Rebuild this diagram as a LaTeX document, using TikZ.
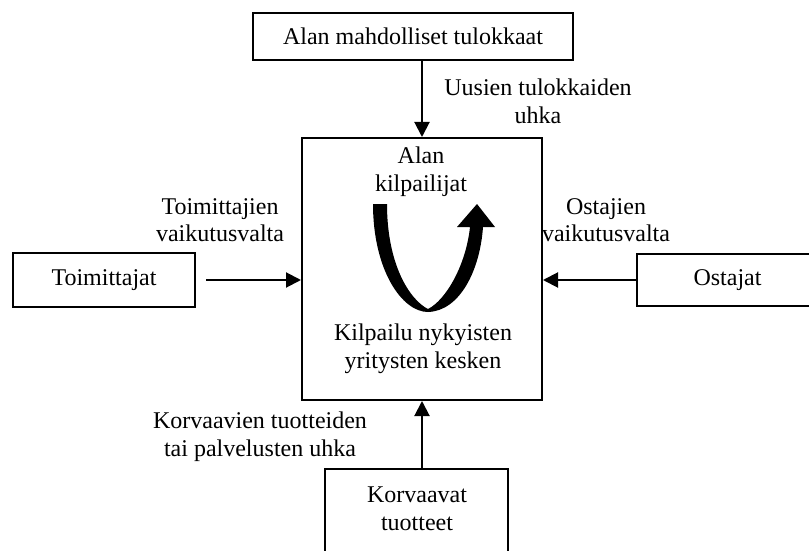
\documentclass[tikz,border=0pt]{standalone}
\usepackage{fontspec}
\setmainfont{Liberation Serif}
\usepackage{tikz}
\usetikzlibrary{arrows.meta}

\begin{document}
\begin{tikzpicture}[
    x=0.5pt, y=-0.5pt,
    font=\fontsize{12}{13.8}\selectfont,
    box/.style={draw, line width=1pt, inner sep=0pt},
    arrow/.style={-{Triangle[length=7.5pt,width=7.5pt]}, line width=1pt},
    lbl/.style={align=center, inner sep=0pt}
]
    \clip (0,0) rectangle (809,551);

    % Boxes
    \node[box, minimum width=160pt, minimum height=23.5pt] (tulokkaat) at (413,36.5) {Alan mahdolliset tulokkaat};
    \node[box, minimum width=120pt, minimum height=131pt] (kilpailu) at (422,269) {};
    \node[box, minimum width=91pt, minimum height=27pt] (toimittajat) at (104,280) {Toimittajat};
    \node[box, minimum width=90.5pt, minimum height=26pt] (ostajat) at (727.5,280) {Ostajat};
    \node[box, minimum width=91.5pt, minimum height=60pt] (korvaavat) at (416.5,529) {};
    \node[lbl] (korvteksti) at (417,509) {Korvaavat\\tuotteet};

    % Forces
    \draw[arrow] (tulokkaat.south -| kilpailu.north) -- (kilpailu.north);
    \draw[arrow, shorten <=5pt] (toimittajat.east) -- (toimittajat.east -| kilpailu.west);
    \draw[arrow] (ostajat.west) -- (ostajat.west -| kilpailu.east);
    \draw[arrow] (korvaavat.north -| kilpailu.south) -- (kilpailu.south);

    % Labels
    \node[lbl] (uusien) at (538,101) {Uusien tulokkaiden\\uhka};
    \node[lbl] (toimvalta) at (220,220) {Toimittajien\\vaikutusvalta};
    \node[lbl] (ostvalta) at (606,220) {Ostajien\\vaikutusvalta};
    \node[lbl] (korvuhka) at (260,437) {Korvaavien tuotteiden\\tai palvelusten uhka};

    % Inside the middle box
    \node[lbl] (alan) at (421,172) {Alan\\kilpailijat};
    \node[lbl] (nykyiset) at (423,349) {Kilpailu nykyisten\\yritysten kesken};
    \fill (373,204) .. controls (373,270) and (402,312) .. (428,312)
        .. controls (460,311) and (480,270) .. (483,227)
        -- (495,227) -- (477,204) -- (457,227) -- (470,227)
        .. controls (466,265) and (446,300) .. (428,309)
        .. controls (410,300) and (387,265) .. (387,204) -- cycle;
\end{tikzpicture}
\end{document}
